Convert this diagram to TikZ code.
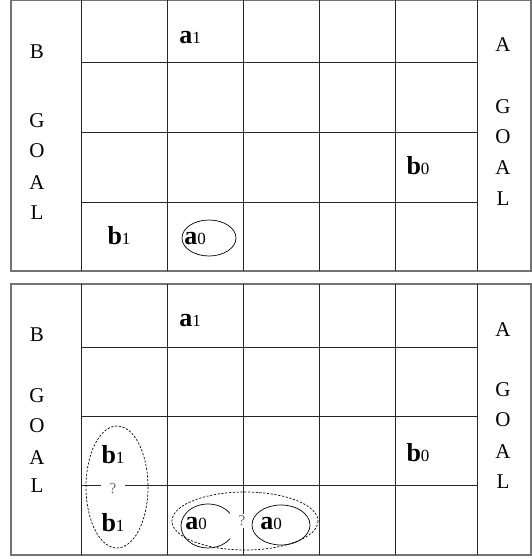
\documentclass[tikz,border=0pt]{standalone}
\usepackage{fontspec}
\setmainfont{Liberation Serif}
\begin{document}
\begin{tikzpicture}[x=1pt,y=-1pt,
  gridline/.style={line width=0.9pt,black!85},
  frameline/.style={line width=1.1pt,black!55},
  goal/.style={inner sep=0pt,font=\fontsize{21}{21}\selectfont},
  piece/.style={inner sep=0pt,font=\fontsize{26}{26}\selectfont\bfseries},
  qmark/.style={inner ysep=2pt,fill=white,text=black!60,font=\fontsize{15}{15}\selectfont},
  solidell/.style={line width=0.7pt},
  dashell/.style={line width=0.7pt,dash pattern=on 2.2pt off 1.6pt}]
\newcommand{\pc}[2]{#1{\mdseries\fontsize{17}{17}\selectfont #2}}
\useasboundingbox (0,0) rectangle (532,559);
% ---------- top panel ----------
\draw[frameline] (11,0) rectangle (531,271);
\foreach \x in {81,167,243,319,395,477} \draw[gridline] (\x,0) -- (\x,271);
\foreach \y in {62,132,202} \draw[gridline] (81,\y) -- (477,\y);
% ---------- bottom panel ----------
\draw[frameline] (11,284) rectangle (531,555);
\foreach \x in {81,167,243,319,395,477} \draw[gridline] (\x,284) -- (\x,555);
\foreach \y in {347,416,485} \draw[gridline] (81,\y) -- (477,\y);
% ---------- goal labels ----------
\node[goal] (tlB) at (37,52) {B};
\node[goal] (tlG) at (37,121) {G};
\node[goal] (tlO) at (37,151) {O};
\node[goal] (tlA) at (37,183) {A};
\node[goal] (tlL) at (37,213) {L};
\node[goal] (trA1) at (503,45) {A};
\node[goal] (trG) at (503,107) {G};
\node[goal] (trO) at (503,137) {O};
\node[goal] (trA) at (503,168) {A};
\node[goal] (trL) at (503,199) {L};
\node[goal] (blB) at (37,335) {B};
\node[goal] (blG) at (37,396) {G};
\node[goal] (blO) at (37,426) {O};
\node[goal] (blA) at (37,458) {A};
\node[goal] (blL) at (37,486) {L};
\node[goal] (brA1) at (503,330) {A};
\node[goal] (brG) at (503,390) {G};
\node[goal] (brO) at (503,420) {O};
\node[goal] (brA) at (503,452) {A};
\node[goal] (brL) at (503,482) {L};
% ---------- top pieces ----------
\node[piece] (ta1) at (190,38) {\pc{a}{1}};
\node[piece] (tb0) at (418,166) {\pc{b}{0}};
\node[piece] (tb1) at (119,236) {\pc{b}{1}};
\node[piece] (ta0) at (195,239) {\pc{a}{0}};
\draw[solidell] (209,238) ellipse [x radius=27,y radius=18];
% ---------- bottom pieces ----------
\node[qmark,inner xsep=9pt] (bq1) at (113,489) {?};
\node[piece] (bb1u) at (113,455) {\pc{b}{1}};
\node[piece] (bb1d) at (113,523) {\pc{b}{1}};
\draw[dashell] (117,487) ellipse [x radius=31,y radius=61];
\node[piece] (ba1) at (190,321) {\pc{a}{1}};
\node[piece] (bb0) at (418,453) {\pc{b}{0}};
\node[qmark,inner xsep=2pt] (bq2) at (242,521) {?};
\node[piece] (ba0l) at (196,524) {\pc{a}{0}};
\node[piece] (ba0r) at (271,524) {\pc{a}{0}};
\draw[solidell] (208,526) ++(35:27 and 22) arc[start angle=35,end angle=325,x radius=27,y radius=22];
\draw[solidell] (281,525) ellipse [x radius=29,y radius=20];
\draw[dashell] (245,521) ellipse [x radius=73,y radius=29];
\end{tikzpicture}
\end{document}
